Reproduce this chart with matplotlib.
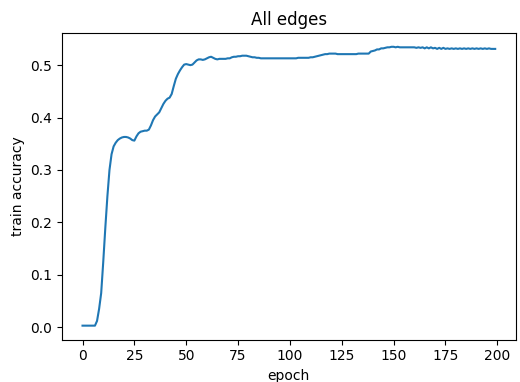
import matplotlib
matplotlib.use("Agg")
import matplotlib.pyplot as plt
import numpy as np

train_acc = [
    0.003, 0.003, 0.003, 0.003, 0.003, 0.003, 0.003, 0.012, 0.035, 0.065,
    0.125, 0.19, 0.25, 0.30, 0.33, 0.345, 0.352, 0.357, 0.360, 0.362,
    0.363, 0.363, 0.362, 0.360, 0.357, 0.356, 0.364, 0.370, 0.373, 0.374,
    0.375, 0.375, 0.377, 0.385, 0.395, 0.402, 0.406, 0.410, 0.418, 0.426,
    0.432, 0.436, 0.438, 0.445, 0.460, 0.474, 0.483, 0.490, 0.496, 0.501,
    0.502, 0.501, 0.500, 0.501, 0.505, 0.509, 0.511, 0.511, 0.510, 0.511,
    0.513, 0.515, 0.516, 0.514, 0.512, 0.511, 0.512, 0.512, 0.512, 0.512,
    0.513, 0.513, 0.515, 0.516, 0.516, 0.517, 0.517, 0.518, 0.518, 0.518,
    0.517, 0.516, 0.515, 0.515, 0.514, 0.514, 0.513, 0.513, 0.513, 0.513,
    0.513, 0.513, 0.513, 0.513, 0.513, 0.513, 0.513, 0.513, 0.513, 0.513,
    0.513, 0.513, 0.513, 0.513, 0.514, 0.514, 0.514, 0.514, 0.514, 0.514,
    0.515, 0.515, 0.516, 0.517, 0.518, 0.519, 0.520, 0.521, 0.521, 0.522,
    0.522, 0.522, 0.522, 0.521, 0.521, 0.521, 0.521, 0.521, 0.521, 0.521,
    0.521, 0.521, 0.521, 0.522, 0.522, 0.522, 0.522, 0.522, 0.522, 0.526,
    0.527, 0.528, 0.530, 0.530, 0.532, 0.532, 0.533, 0.534, 0.534, 0.535,
    0.535, 0.534, 0.535, 0.534, 0.534, 0.534, 0.534, 0.534, 0.534, 0.534,
    0.534, 0.533, 0.534, 0.533, 0.534, 0.532, 0.534, 0.532, 0.534, 0.532,
    0.533, 0.531, 0.533, 0.531, 0.533, 0.531, 0.532, 0.531, 0.532, 0.531,
    0.532, 0.531, 0.532, 0.531, 0.532, 0.531, 0.532, 0.531, 0.532, 0.531,
    0.532, 0.531, 0.532, 0.531, 0.532, 0.531, 0.532, 0.531, 0.531, 0.531,
]
epochs = list(range(len(train_acc)))

fig = plt.figure(figsize=(5.2, 3.82), dpi=100)
ax = fig.add_axes([0.119, 0.111, 0.873, 0.803])
ax.plot(epochs, train_acc, color="#1f77b4")
ax.set_title("All edges", fontsize=12)
ax.set_xlabel("epoch", fontsize=10)
ax.set_ylabel("train accuracy", fontsize=10)
ax.set_xticks([0, 25, 50, 75, 100, 125, 150, 175, 200])
ax.set_yticks([0.0, 0.1, 0.2, 0.3, 0.4, 0.5])
fig.savefig("out.png", dpi=100)
